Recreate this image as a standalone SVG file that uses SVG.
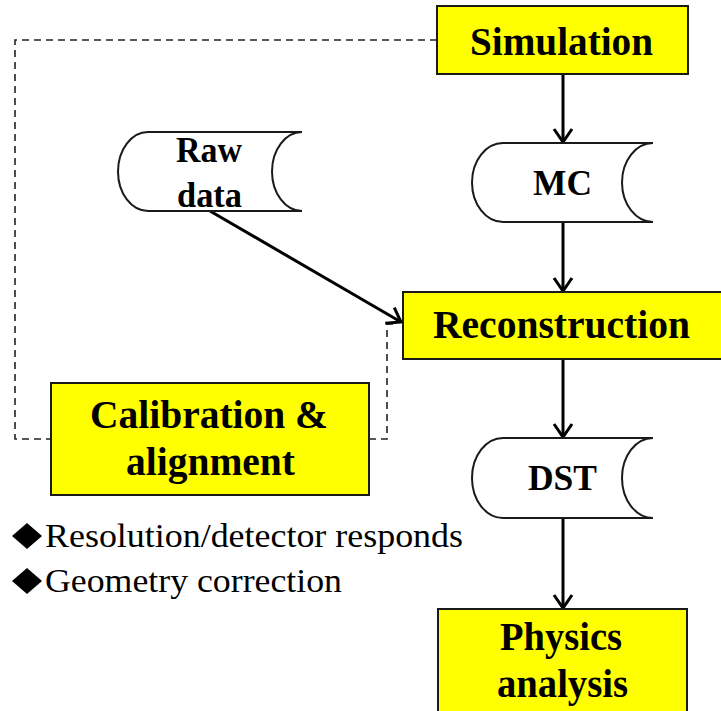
<svg xmlns="http://www.w3.org/2000/svg" width="721" height="711" viewBox="0 0 721 711" font-family="Liberation Serif, Times New Roman, serif">
  <style>
    .box { fill: #ffff00; stroke: #1a1a1a; stroke-width: 2; }
    .store { fill: #ffffff; stroke: #1a1a1a; stroke-width: 2; }
    .lbl { font-weight: bold; fill: #000; text-anchor: middle; }
    .big { font-size: 40px; }
    .mid { font-size: 35px; }
    .note { font-size: 33px; fill: #000; }
    .flow { fill: none; stroke: #000; stroke-width: 3; }
    .dash { fill: none; stroke: #222; stroke-width: 1.6; stroke-dasharray: 7 5; }
  </style>
  <defs>
    <marker id="arrow" markerUnits="userSpaceOnUse" markerWidth="24" markerHeight="24" viewBox="-14 -12 16 24" refX="0" refY="0" orient="auto">
      <path d="M -13 -9 L 0 0 L -13 9" fill="none" stroke="#000" stroke-width="3" stroke-linejoin="miter"/>
    </marker>
  </defs>
  <rect width="721" height="711" fill="#ffffff"/>

  <!-- connectors: dashed feedback loop and solid data-flow arrows -->
  <g id="connectors">
    <path class="dash" d="M 437 40 H 15 V 439 H 51"/>
    <path class="dash" d="M 369 439 H 387 V 324 H 398"/>
    <line class="flow" x1="563" y1="74" x2="563" y2="142" marker-end="url(#arrow)"/>
    <line class="flow" x1="563" y1="222" x2="563" y2="291" marker-end="url(#arrow)"/>
    <line class="flow" x1="210" y1="211" x2="401" y2="322" marker-end="url(#arrow)"/>
    <line class="flow" x1="563" y1="359" x2="563" y2="437" marker-end="url(#arrow)"/>
    <line class="flow" x1="563" y1="518" x2="563" y2="608" marker-end="url(#arrow)"/>
  </g>

  <g id="simulation">
    <rect class="box" x="437" y="6" width="251" height="68"/>
    <text class="lbl big" x="561.5" y="55" textLength="183" lengthAdjust="spacingAndGlyphs">Simulation</text>
  </g>

  <g id="mc">
    <path class="store" d="M 503 143 H 653 A 31 39.5 0 0 0 653 222 H 503 A 31 39.5 0 0 1 503 143 Z"/>
    <text class="lbl mid" x="562.5" y="195" textLength="59" lengthAdjust="spacingAndGlyphs">MC</text>
  </g>

  <g id="raw-data">
    <path class="store" d="M 148 132 H 302 A 30 39.5 0 0 0 302 211 H 148 A 30 39.5 0 0 1 148 132 Z"/>
    <text class="lbl mid" x="209" y="162" textLength="66" lengthAdjust="spacingAndGlyphs">Raw</text>
    <text class="lbl mid" x="209.5" y="207" textLength="65" lengthAdjust="spacingAndGlyphs">data</text>
  </g>

  <g id="reconstruction">
    <rect class="box" x="403" y="292" width="330" height="67"/>
    <text class="lbl big" x="561.5" y="338" textLength="257" lengthAdjust="spacingAndGlyphs">Reconstruction</text>
  </g>

  <g id="dst">
    <path class="store" d="M 503 438 H 653 A 31 40 0 0 0 653 518 H 503 A 31 40 0 0 1 503 438 Z"/>
    <text class="lbl mid" x="562.5" y="490" textLength="69" lengthAdjust="spacingAndGlyphs">DST</text>
  </g>

  <g id="calibration">
    <rect class="box" x="51" y="383" width="318" height="112"/>
    <text class="lbl big" x="209" y="428" textLength="238" lengthAdjust="spacingAndGlyphs">Calibration &amp;</text>
    <text class="lbl big" x="210.5" y="475" textLength="169" lengthAdjust="spacingAndGlyphs">alignment</text>
  </g>

  <g id="physics-analysis">
    <rect class="box" x="438" y="609" width="249" height="110"/>
    <text class="lbl big" x="561" y="650" textLength="122" lengthAdjust="spacingAndGlyphs">Physics</text>
    <text class="lbl big" x="562.5" y="697" textLength="131" lengthAdjust="spacingAndGlyphs">analysis</text>
  </g>

  <g id="notes">
    <polygon points="27,523 42,536 27,549 12,536" fill="#000"/>
    <text class="note" x="45" y="547" textLength="418" lengthAdjust="spacingAndGlyphs">Resolution/detector responds</text>
    <polygon points="27,568 42,581 27,594 12,581" fill="#000"/>
    <text class="note" x="45" y="592" textLength="297" lengthAdjust="spacingAndGlyphs">Geometry correction</text>
  </g>
</svg>
